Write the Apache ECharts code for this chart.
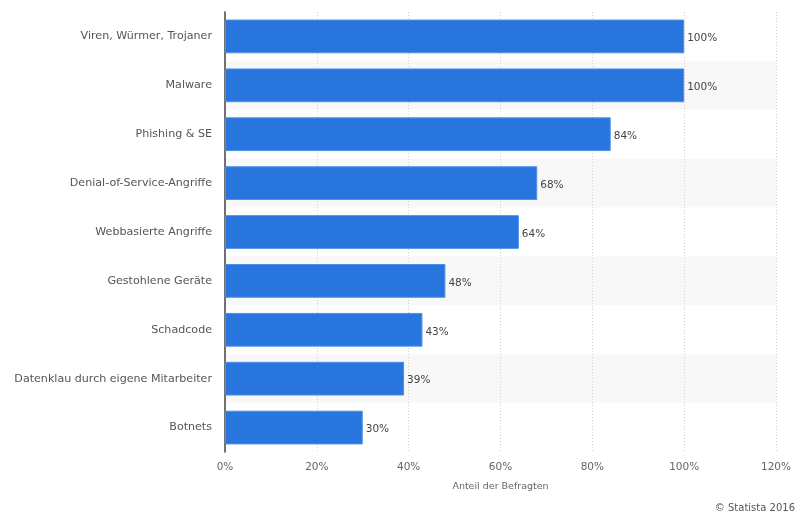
<!DOCTYPE html>
<html><head><meta charset="utf-8">
<script src="https://cdn.jsdelivr.net/npm/echarts@6/dist/echarts.min.js"></script>
<style>html,body{margin:0;padding:0;background:#fff}#c{width:797px;height:513px}</style>
</head><body><div id="c"></div>
<script>
const categories = ["Viren, Würmer, Trojaner","Malware","Phishing & SE","Denial-of-Service-Angriffe","Webbasierte Angriffe","Gestohlene Geräte","Schadcode","Datenklau durch eigene Mitarbeiter","Botnets"];
const values = [100,100,84,68,64,48,43,39,30];
const xTicks = [0,20,40,60,80,100,120];
const font = "'DejaVu Sans', Verdana, sans-serif";
const chart = echarts.init(document.getElementById('c'), null, {renderer:'canvas'});
chart.setOption({
  animation:false,
  grid:{left:225,right:21,top:12,bottom:61,containLabel:false},
  xAxis:{type:'value',min:xTicks[0],max:xTicks[xTicks.length-1],interval:20,
    name:'Anteil der Befragten',nameLocation:'middle',nameGap:30,
    nameTextStyle:{color:'#666',fontSize:9.5,fontFamily:font},
    axisLine:{show:false},axisTick:{show:false},
    axisLabel:{color:'#666',fontSize:10.5,fontFamily:font,margin:10,formatter:v=>v+'%'},
    splitLine:{show:true,lineStyle:{color:'#cfcfcf',type:[1,2],width:1}}},
  yAxis:{type:'category',data:categories,inverse:true,
    axisLine:{show:true,lineStyle:{color:'#444',width:1.5}},axisTick:{show:false},
    axisLabel:{color:'#555',fontSize:11.1,fontFamily:font,margin:13},
    splitArea:{show:true,areaStyle:{color:['#ffffff','#f8f8f8']}},
    splitLine:{show:false}},
  series:[{type:'bar',data:values,barCategoryGap:'31%',
    itemStyle:{color:'#2876dd',borderColor:'#4d8fe6',borderWidth:1},
    label:{show:true,position:'right',distance:3,offset:[0,2],color:'#444',fontSize:10.5,fontFamily:font,formatter:p=>p.value+'%'}}],
  graphic:[{type:'text',right:2,top:503,style:{text:'© Statista 2016',fill:'#555',font:'10px '+font}}]
});
</script></body></html>
